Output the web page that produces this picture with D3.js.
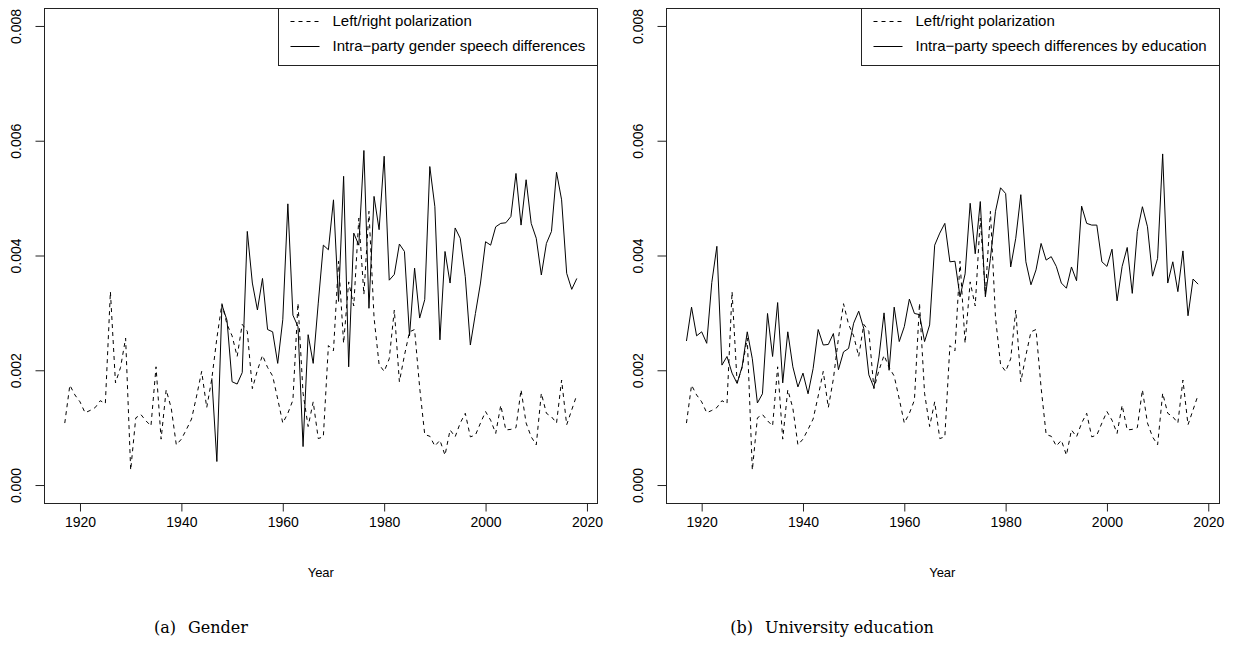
<!DOCTYPE html>
<html lang="en">
<head>
<meta charset="UTF-8">
<title>Polarization and intra-party speech differences</title>
<script src="https://cdn.jsdelivr.net/npm/d3@7"></script>
<style>
  body { margin: 0; background: #fff; }
  svg text { font-family: "Liberation Sans", Arial, sans-serif; fill: #000; }
  svg text.caption { font-family: "DejaVu Serif", "Liberation Serif", serif; }
</style>
</head>
<body>
<svg id="chart" width="1240" height="652"></svg>
<script>
// years 1917..2018, one value per year
const firstYear = 1917
const lastYear = 2018

// left/right polarization (dashed, same in both panels)
const polarization = [
  0.00108, 0.00174, 0.00157, 0.00145, 0.00126, 0.00130, 0.00135, 0.00147, 0.00142, 0.00337,
  0.00178, 0.00205, 0.00256, 0.00026, 0.00117, 0.00123, 0.00112, 0.00103, 0.00206, 0.00080,
  0.00166, 0.00134, 0.00070, 0.00080, 0.00097, 0.00115, 0.00155, 0.00198, 0.00135, 0.00185,
  0.00256, 0.00316, 0.00280, 0.00260, 0.00224, 0.00280, 0.00268, 0.00168, 0.00200, 0.00226,
  0.00205, 0.00190, 0.00150, 0.00108, 0.00125, 0.00148, 0.00317, 0.00160, 0.00102, 0.00145,
  0.00081, 0.00084, 0.00243, 0.00234, 0.00390, 0.00247, 0.00354, 0.00312, 0.00465, 0.00332,
  0.00477, 0.00292, 0.00210, 0.00198, 0.00220, 0.00305, 0.00180, 0.00226, 0.00267, 0.00271,
  0.00170, 0.00088, 0.00085, 0.00068, 0.00078, 0.00052, 0.00096, 0.00084, 0.00108, 0.00125,
  0.00084, 0.00087, 0.00108, 0.00128, 0.00113, 0.00090, 0.00139, 0.00096, 0.00097, 0.00100,
  0.00166, 0.00108, 0.00084, 0.00070, 0.00160, 0.00125, 0.00119, 0.00108, 0.00183, 0.00105,
  0.00131, 0.00157
]

// intra-party gender speech differences, 1946..2018
const genderStart = 1946
const genderDiff = [
  0.00186, 0.00041, 0.00314, 0.00287, 0.00180, 0.00176, 0.00196, 0.00442, 0.00352, 0.00305,
  0.00360, 0.00271, 0.00267, 0.00212, 0.00288, 0.00490, 0.00296, 0.00276, 0.00067, 0.00262,
  0.00212, 0.00317, 0.00418, 0.00410, 0.00497, 0.00320, 0.00538, 0.00206, 0.00439, 0.00418,
  0.00583, 0.00308, 0.00503, 0.00445, 0.00573, 0.00357, 0.00367, 0.00420, 0.00407, 0.00260,
  0.00378, 0.00291, 0.00323, 0.00555, 0.00485, 0.00253, 0.00407, 0.00352, 0.00448, 0.00430,
  0.00363, 0.00244, 0.00299, 0.00352, 0.00424, 0.00418, 0.00450, 0.00456, 0.00457, 0.00468,
  0.00543, 0.00453, 0.00532, 0.00456, 0.00430, 0.00366, 0.00421, 0.00442, 0.00545, 0.00497,
  0.00369, 0.00341, 0.00360
]

// intra-party speech differences by education, 1917..2018
const eduStart = 1917
const eduDiff = [
  0.00251, 0.00310, 0.00260, 0.00267, 0.00247, 0.00353, 0.00416, 0.00209, 0.00224, 0.00195,
  0.00177, 0.00207, 0.00267, 0.00220, 0.00143, 0.00159, 0.00299, 0.00224, 0.00318, 0.00178,
  0.00267, 0.00206, 0.00171, 0.00195, 0.00159, 0.00203, 0.00271, 0.00244, 0.00245, 0.00264,
  0.00201, 0.00232, 0.00238, 0.00282, 0.00303, 0.00273, 0.00192, 0.00170, 0.00223, 0.00300,
  0.00200, 0.00310, 0.00250, 0.00276, 0.00324, 0.00299, 0.00297, 0.00250, 0.00279, 0.00418,
  0.00439, 0.00456, 0.00389, 0.00390, 0.00328, 0.00368, 0.00491, 0.00403, 0.00494, 0.00328,
  0.00395, 0.00477, 0.00518, 0.00508, 0.00380, 0.00430, 0.00506, 0.00389, 0.00349, 0.00375,
  0.00421, 0.00392, 0.00398, 0.00381, 0.00352, 0.00343, 0.00380, 0.00356, 0.00486, 0.00456,
  0.00453, 0.00453, 0.00389, 0.00381, 0.00411, 0.00321, 0.00381, 0.00414, 0.00334, 0.00442,
  0.00485, 0.00450, 0.00364, 0.00395, 0.00577, 0.00352, 0.00389, 0.00337, 0.00408, 0.00295,
  0.00359, 0.00350
]

const xTicks = [1920, 1940, 1960, 1980, 2000, 2020]
const yTicks = [0, 0.002, 0.004, 0.006, 0.008]
const yLimits = [0, 0.008]

const legendLabels = {
  base: 'Left/right polarization',
  gender: 'Intra\u2212party gender speech differences',
  edu: 'Intra\u2212party speech differences by education'
}
const captionTags = ['(a)', '(b)']
const captionTexts = ['Gender', 'University education']

const svg = d3.select('#chart')
const plotTop = 7.6, plotBottom = 503.4
const fontSize = 14

const toPoints = (vals, start) => vals.map((v, i) => ({ year: start + i, v: v }))

const panels = [
  { left: 44.3, right: 597.3, series: toPoints(genderDiff, genderStart), label: legendLabels.gender, capX: 201 },
  { left: 666, right: 1218.6, series: toPoints(eduDiff, eduStart), label: legendLabels.edu, capX: 832 }
]

// R style: extend range 4% on each side
function rPad(lo, hi) {
  let d = (hi - lo) * 0.04
  return [lo - d, hi + d]
}

panels.forEach((p, k) => {
  let x = d3.scaleLinear().domain(rPad(firstYear, lastYear)).range([p.left, p.right])
  let y = d3.scaleLinear().domain(rPad(yLimits[0], yLimits[1])).range([plotBottom, plotTop])
  let g = svg.append('g')

  // box
  g.append('rect')
    .attr('x', Math.round(p.left) + 0.5).attr('y', Math.round(plotTop) + 0.5)
    .attr('width', Math.round(p.right) - Math.round(p.left)).attr('height', Math.round(plotBottom) - Math.round(plotTop))
    .attr('fill', 'none').attr('stroke', '#222').attr('stroke-width', 1)

  // x axis
  let xAxis = d3.axisBottom(x).tickValues(xTicks).tickFormat(d3.format('d')).tickSize(8).tickPadding(6)
  let xg = g.append('g').attr('transform', `translate(0,${Math.round(plotBottom) + 0.5})`).call(xAxis)
  xg.select('.domain').attr('d', `M${x(xTicks[0])},0H${x(xTicks[xTicks.length - 1])}`).attr('stroke', '#222')
  xg.selectAll('line').attr('stroke', '#222')
  xg.selectAll('text').attr('font-size', fontSize).attr('font-family', null)

  // y axis with labels turned to read upwards
  let yAxis = d3.axisLeft(y).tickValues(yTicks).tickFormat(d3.format('.3f')).tickSize(9)
  let yg = g.append('g').attr('transform', `translate(${Math.round(p.left) + 0.5},0)`).call(yAxis)
  yg.select('.domain').attr('d', `M0,${y(yTicks[0])}V${y(yTicks[yTicks.length - 1])}`).attr('stroke', '#222')
  yg.selectAll('line').attr('stroke', '#222')
  yg.selectAll('text')
    .attr('font-size', fontSize).attr('font-family', null)
    .attr('x', null).attr('y', null).attr('dy', null)
    .attr('text-anchor', 'middle')
    .attr('transform', 'translate(-24,0) rotate(-90)')

  // x label
  g.append('text')
    .attr('x', (p.left + p.right) / 2).attr('y', 577)
    .attr('text-anchor', 'middle').attr('font-size', fontSize - 1)
    .text('Year')

  let line = d3.line().x(d => x(d.year)).y(d => y(d.v))

  g.append('path')
    .datum(toPoints(polarization, firstYear))
    .attr('d', line).attr('fill', 'none')
    .attr('stroke', '#000').attr('stroke-width', 1).attr('stroke-dasharray', '4,4')

  g.append('path')
    .datum(p.series)
    .attr('d', line).attr('fill', 'none')
    .attr('stroke', '#000').attr('stroke-width', 1)

  // legend, anchored at the top right corner of the box
  let lg = g.append('g')
  let t1 = lg.append('text').attr('font-size', 15).text(legendLabels.base)
  let t2 = lg.append('text').attr('font-size', 15).text(p.label)
  let tw = Math.max(t1.node().getComputedTextLength(), t2.node().getComputedTextLength())
  let lw = tw + 66
  let lx = Math.round(p.right - lw) + 0.5
  lg.insert('rect', 'text')
    .attr('x', lx).attr('y', Math.round(plotTop) + 0.5)
    .attr('width', Math.round(p.right) - lx + 0.5).attr('height', 57)
    .attr('fill', '#fff').attr('stroke', '#222')
  let rows = [plotTop + 13.5, plotTop + 38.5]
  t1.attr('x', lx + 54).attr('y', rows[0]).attr('dy', '0.35em')
  t2.attr('x', lx + 54).attr('y', rows[1]).attr('dy', '0.35em')
  lg.append('line').attr('x1', lx + 12).attr('x2', lx + 41).attr('y1', Math.round(rows[0]) + 0.5).attr('y2', Math.round(rows[0]) + 0.5)
    .attr('stroke', '#000').attr('stroke-dasharray', '4,4')
  lg.append('line').attr('x1', lx + 12).attr('x2', lx + 41).attr('y1', Math.round(rows[1]) + 0.5).attr('y2', Math.round(rows[1]) + 0.5)
    .attr('stroke', '#000')

  // subfigure caption
  let cap = g.append('text')
    .attr('class', 'caption')
    .attr('x', p.capX).attr('y', 633)
    .attr('text-anchor', 'middle').attr('font-size', 16)
  cap.append('tspan').text(captionTags[k])
  cap.append('tspan').attr('dx', 12).text(captionTexts[k])
})
</script>
</body>
</html>
